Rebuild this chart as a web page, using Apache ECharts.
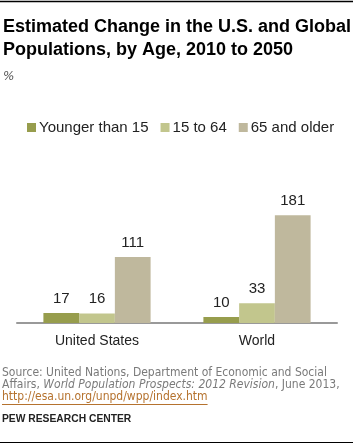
<!DOCTYPE html>
<html><head><meta charset="utf-8">
<script src="https://cdn.jsdelivr.net/npm/echarts@6/dist/echarts.min.js"></script>
<style>html,body{margin:0;padding:0;background:#fff}#c{width:355px;height:445px}</style>
</head><body><div id="c"></div>
<script>
const categories = ['United States', 'World'];
const seriesNames = ['Younger than 15', '15 to 64', '65 and older'];
const younger = [17, 10];
const working = [16, 33];
const older = [111, 181];

const colors = ['#979d4d', '#c2c68d', '#bfb89d'];
const chart = echarts.init(document.getElementById('c'), null, {renderer: 'canvas'});
const dataSets = [younger, working, older];

const cv = document.createElement('canvas').getContext('2d');
function tw(t, f) { cv.font = f; return cv.measureText(t).width; }
const titleLine1 = 'Estimated Change in the U.S. and Global';
const titleFont = 'bold 18px "Liberation Sans"';
const pewFont = 'bold 10.3px "Liberation Sans"';
const srcFont = '12px "DejaVu Sans Condensed"';
const linkText = 'http://esa.un.org/unpd/wpp/index.htm';
const linkW = tw(linkText, srcFont);

chart.setOption({
  animation: false,
  color: colors,
  legend: {
    left: 22, top: 115, itemWidth: 9, itemHeight: 9, itemGap: 12,
    icon: 'rect',
    textStyle: {fontFamily: 'Liberation Sans', fontSize: 15, color: '#222', padding: [0,0,0,-2]},
    data: seriesNames
  },
  grid: {left: 17, right: 18, top: 204, bottom: 122},
  xAxis: {
    type: 'category', data: categories,
    axisLine: {lineStyle: {color: '#999', width: 2}},
    axisTick: {show: false},
    axisLabel: {fontFamily: 'Liberation Sans', fontSize: 14, color: '#222', margin: 11}
  },
  yAxis: {type: 'value', min: 0, max: 200, show: false, splitLine: {show: false}},
  series: seriesNames.map((n, i) => ({
    name: n, type: 'bar', data: dataSets[i], barGap: '0%', barCategoryGap: '33%',
    label: {show: true, position: 'top', distance: 7, fontFamily: 'Liberation Sans', fontSize: 15, color: '#222'}
  })),
  graphic: [
    {type: 'line', shape: {x1: 0, y1: 1.5, x2: 353, y2: 1.5}, style: {stroke: '#000', lineWidth: 1.5}},
    {type: 'text', left: 3, top: 16, style: {text: titleLine1 + '\nPopulations, by Age, 2010 to 2050', font: titleFont, fill: '#000', lineHeight: 23}},
    {type: 'text', left: 3, top: 71, style: {text: '%', font: 'italic 12px "DejaVu Sans"', fill: '#555'}},
    {type: 'text', left: 2, top: 367, style: {
      text: '{n|Source: United Nations, Department of Economic and Social}\n{n|Affairs, }{i|World Population Prospects: 2012 Revision}{n|, June 2013,}\n{l|' + linkText + '}',
      rich: {
        n: {font: srcFont, fill: '#7a7a7a', lineHeight: 12},
        i: {font: 'italic ' + srcFont, fill: '#7a7a7a', lineHeight: 12},
        l: {font: srcFont, fill: '#b5722e', lineHeight: 12}
      }
    }},
    {type: 'line', shape: {x1: 2, y1: 404.5, x2: 2 + linkW, y2: 404.5}, style: {stroke: '#b5722e', lineWidth: 1}},
    {type: 'text', left: 2, top: 414, style: {text: 'PEW RESEARCH CENTER', font: pewFont, fill: '#222'}},
    {type: 'line', shape: {x1: 0, y1: 442.5, x2: 353, y2: 442.5}, style: {stroke: '#000', lineWidth: 1}}
  ]
});
</script></body></html>
